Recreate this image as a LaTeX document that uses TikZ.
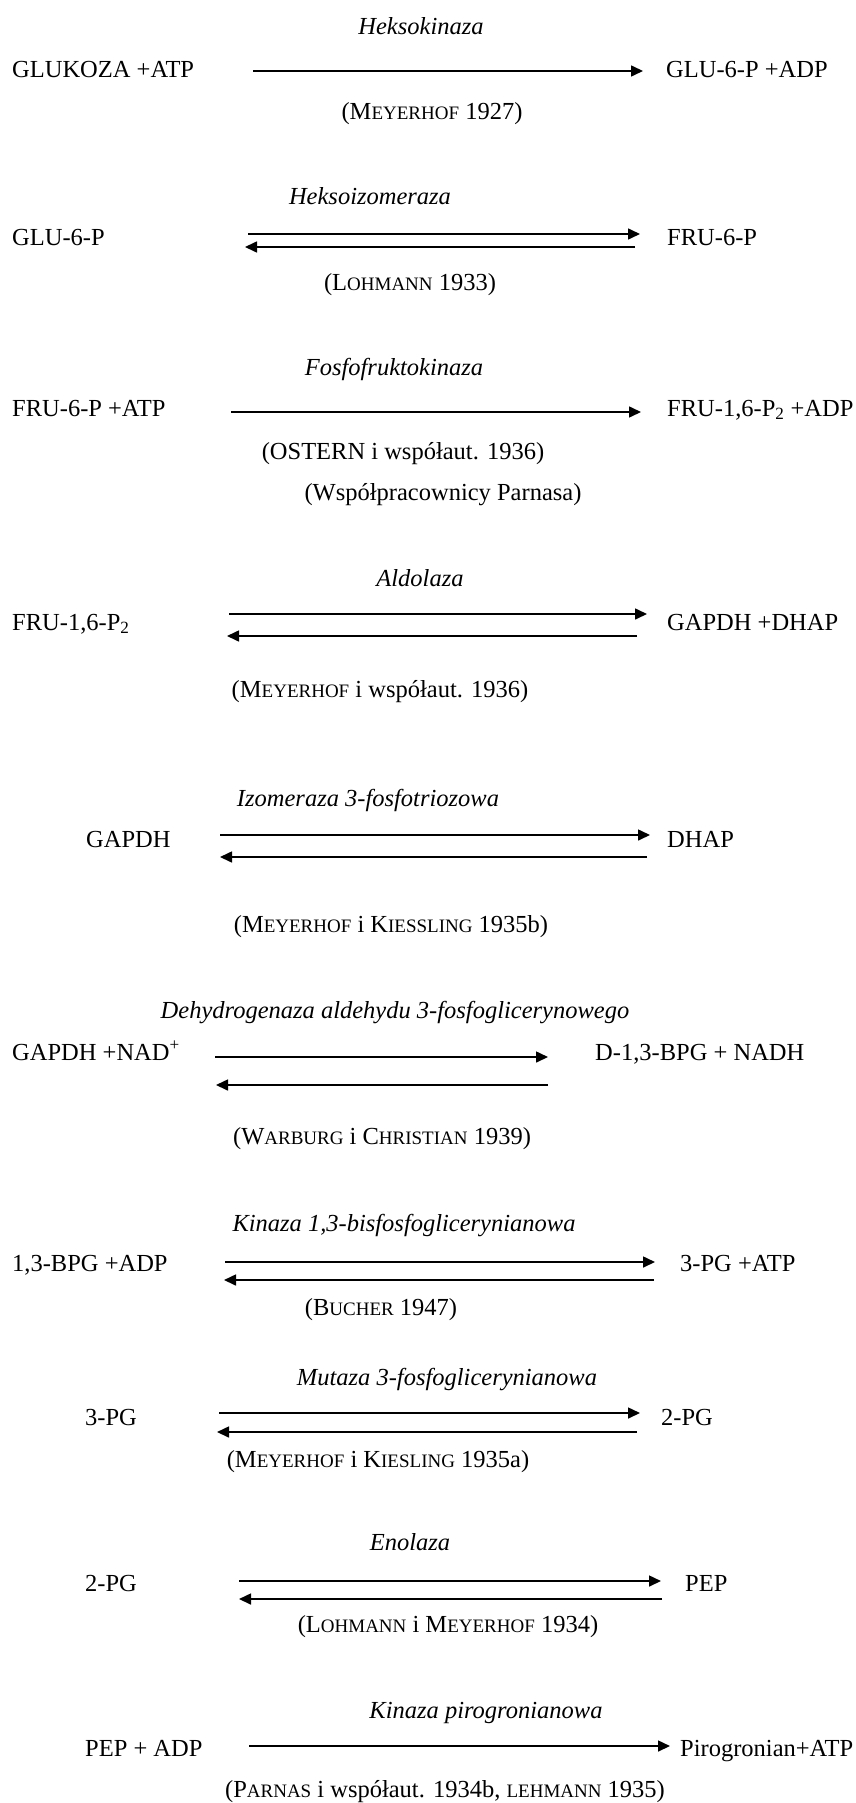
\documentclass[tikz,border=0pt]{standalone}
\usepackage{fontspec}
\setmainfont{Liberation Serif}
\usetikzlibrary{arrows.meta}

\newcommand{\msc}[1]{{\fontsize{19}{22}\selectfont #1}}

\begin{document}
\begin{tikzpicture}[
	x=1pt, y=-1pt,
	every node/.style={inner sep=0pt, font=\fontsize{24.5}{29}\selectfont},
	species/.style={anchor=base west},
	enzyme/.style={anchor=base, font=\fontsize{24.5}{29}\selectfont\itshape},
	cite/.style={anchor=base},
	rxn/.style={line width=1.6pt, -{Triangle[length=12pt,width=11pt]}}
	]
	\useasboundingbox (0,0) rectangle (855,1803);
	
	% Heksokinaza
	\node[enzyme] (hk) at (421,35) {Heksokinaza};
	\node[species] (glukoza) at (12,78) {GLUKOZA +ATP};
	\node[species] (glu6p) at (666,78) {GLU-6-P +ADP};
	\node[cite] (hkref) at (432,120) {(M\msc{EYERHOF} 1927)};
	\coordinate (hks) at (253,71);
	\coordinate (hke) at (643,71);
	
	% Heksoizomeraza
	\node[enzyme] (hi) at (370,205) {Heksoizomeraza};
	\node[species] (glu6pb) at (12,246) {GLU-6-P};
	\node[species] (fru6p) at (667,246) {FRU-6-P};
	\node[cite] (hiref) at (410,290) {(L\msc{OHMANN} 1933)};
	\coordinate (his) at (248,234);
	\coordinate (hie) at (640,234);
	\coordinate (hibs) at (635,247);
	\coordinate (hibe) at (245,247);
	
	% Fosfofruktokinaza
	\node[enzyme] (pfk) at (394,375) {Fosfofruktokinaza};
	\node[species] (fru6pb) at (12,416) {FRU-6-P +ATP};
	\node[species] (fru16p) at (667,416) {FRU-1,6-P\textsubscript{2} +ADP};
	\node[cite] (pfkref) at (403,459) {(OSTERN i współaut. 1936)};
	\node[cite] (pfkref2) at (443,500) {(Współpracownicy Parnasa)};
	\coordinate (pfks) at (231,412);
	\coordinate (pfke) at (641,412);
	
	% Aldolaza
	\node[enzyme] (ald) at (420,586) {Aldolaza};
	\node[species] (fru16pb) at (12,630) {FRU-1,6-P\textsubscript{2}};
	\node[species] (gapdhdhap) at (667,630) {GAPDH +DHAP};
	\node[cite] (aldref) at (380,697) {(M\msc{EYERHOF} i współaut. 1936)};
	\coordinate (alds) at (229,614);
	\coordinate (alde) at (647,614);
	\coordinate (aldbs) at (637,636);
	\coordinate (aldbe) at (227,636);
	
	% Izomeraza 3-fosfotriozowa
	\node[enzyme] (tpi) at (368,806) {Izomeraza 3-fosfotriozowa};
	\node[species] (gapdh) at (86,847) {GAPDH};
	\node[species] (dhap) at (667,847) {DHAP};
	\node[cite] (tpiref) at (391,932) {(M\msc{EYERHOF} i K\msc{IESSLING} 1935b)};
	\coordinate (tpis) at (220,835);
	\coordinate (tpie) at (650,835);
	\coordinate (tpibs) at (647,857);
	\coordinate (tpibe) at (220,857);
	
	% Dehydrogenaza
	\node[enzyme] (dh) at (395,1018) {Dehydrogenaza aldehydu 3-fosfoglicerynowego};
	\node[species] (gapdhnad) at (12,1060) {GAPDH +NAD\textsuperscript{+}};
	\node[species] (bpg) at (595,1060) {D-1,3-BPG + NADH};
	\node[cite] (dhref) at (382,1144) {(W\msc{ARBURG} i C\msc{HRISTIAN} 1939)};
	\coordinate (dhs) at (215,1057);
	\coordinate (dhe) at (548,1057);
	\coordinate (dhbs) at (548,1085);
	\coordinate (dhbe) at (216,1085);
	
	% Kinaza 1,3-bisfosfoglicerynianowa
	\node[enzyme] (pgk) at (404,1231) {Kinaza 1,3-bisfosfoglicerynianowa};
	\node[species] (bpgadp) at (12,1271) {1,3-BPG +ADP};
	\node[species] (pgatp) at (680,1271) {3-PG +ATP};
	\node[cite] (pgkref) at (381,1315) {(B\msc{UCHER} 1947)};
	\coordinate (pgks) at (225,1262);
	\coordinate (pgke) at (655,1262);
	\coordinate (pgkbs) at (654,1280);
	\coordinate (pgkbe) at (224,1280);
	
	% Mutaza 3-fosfoglicerynianowa
	\node[enzyme] (pgm) at (447,1385) {Mutaza 3-fosfoglicerynianowa};
	\node[species] (pg3) at (85,1425) {3-PG};
	\node[species] (pg2) at (661,1425) {2-PG};
	\node[cite] (pgmref) at (378,1467) {(M\msc{EYERHOF} i K\msc{IESLING} 1935a)};
	\coordinate (pgms) at (219,1413);
	\coordinate (pgme) at (640,1413);
	\coordinate (pgmbs) at (637,1432);
	\coordinate (pgmbe) at (217,1432);
	
	% Enolaza
	\node[enzyme] (eno) at (410,1550) {Enolaza};
	\node[species] (pg2b) at (85,1591) {2-PG};
	\node[species] (pep) at (685,1591) {PEP};
	\node[cite] (enoref) at (448,1632) {(L\msc{OHMANN} i M\msc{EYERHOF} 1934)};
	\coordinate (enos) at (239,1581);
	\coordinate (enoe) at (661,1581);
	\coordinate (enobs) at (662,1599);
	\coordinate (enobe) at (239,1599);
	
	% Kinaza pirogronianowa
	\node[enzyme] (pk) at (486,1718) {Kinaza pirogronianowa};
	\node[species] (pepadp) at (85,1756) {PEP + ADP};
	\node[species] (pir) at (680,1756) {Pirogronian+ATP};
	\node[cite] (pkref) at (445,1797) {(P\msc{ARNAS} i współaut. 1934b, \msc{LEHMANN} 1935)};
	\coordinate (pks) at (249,1746);
	\coordinate (pke) at (670,1746);
	
	% Arrows
	\draw[rxn] (hks) -- (hke);
	\draw[rxn] (his) -- (hie);
	\draw[rxn] (hibs) -- (hibe);
	\draw[rxn] (pfks) -- (pfke);
	\draw[rxn] (alds) -- (alde);
	\draw[rxn] (aldbs) -- (aldbe);
	\draw[rxn] (tpis) -- (tpie);
	\draw[rxn] (tpibs) -- (tpibe);
	\draw[rxn] (dhs) -- (dhe);
	\draw[rxn] (dhbs) -- (dhbe);
	\draw[rxn] (pgks) -- (pgke);
	\draw[rxn] (pgkbs) -- (pgkbe);
	\draw[rxn] (pgms) -- (pgme);
	\draw[rxn] (pgmbs) -- (pgmbe);
	\draw[rxn] (enos) -- (enoe);
	\draw[rxn] (enobs) -- (enobe);
	\draw[rxn] (pks) -- (pke);
	
\end{tikzpicture}
\end{document}
